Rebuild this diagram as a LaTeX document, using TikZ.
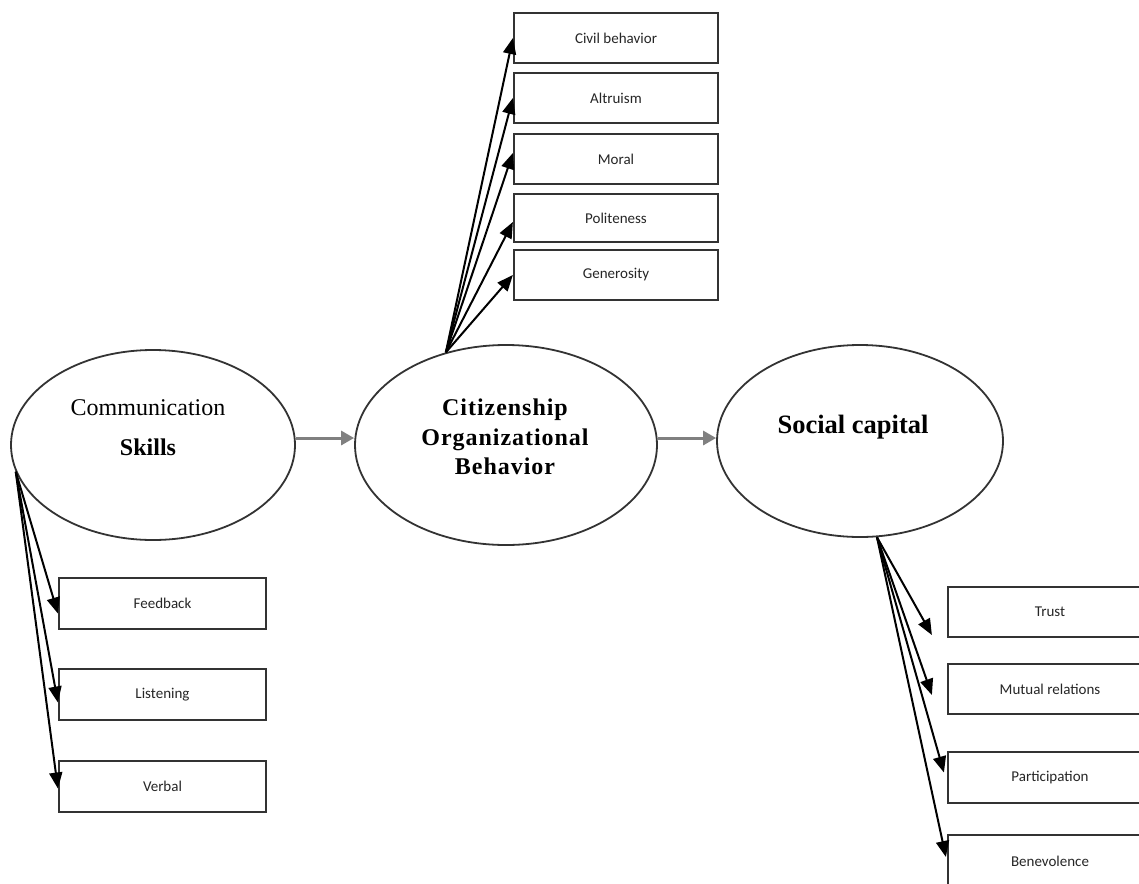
\documentclass[tikz,border=0pt]{standalone}
\usepackage{fontspec}
\usetikzlibrary{shapes.geometric,arrows.meta,calc}
\newfontfamily\ellfont{Liberation Serif}
\newfontfamily\cobfont[LetterSpace=4]{Liberation Serif}
\newfontfamily\boxfont{Carlito}
\begin{document}
\begin{tikzpicture}[x=1pt,y=-1pt,
  ell/.style={ellipse,draw=black!80,line width=1.8pt,inner sep=0pt},
  dimbox/.style={draw=black!80,line width=2.2pt,minimum width=204pt,minimum height=50pt,inner sep=0pt,
    font=\boxfont\fontsize{15}{18}\selectfont,text=black!85},
  blk/.style={-{Triangle[length=16pt,width=13pt]},line width=2pt,black},
  gry/.style={-{Triangle[length=13pt,width=14pt]},line width=3pt,black!50}]
\useasboundingbox (0,0) rectangle (1139,883);
\fill[white] (0,0) rectangle (1139,883);

% ellipses
\node[ell,minimum width=284pt,minimum height=190pt] (cs) at (153,445) {};
\node[ell,minimum width=302pt,minimum height=200pt] (cob) at (506,445) {};
\node[ell,minimum width=286pt,minimum height=192pt] (sc) at (860,441) {};

\node[align=center,font=\ellfont\fontsize{24}{40}\selectfont] (cstxt) at (148,428) {Communication\\\textbf{Skills}};
\node[align=center,font=\cobfont\bfseries\fontsize{24}{29.5}\selectfont] (cobtxt) at (505,437) {Citizenship\\Organizational\\Behavior};
\node[font=\ellfont\bfseries\fontsize{26.5}{30}\selectfont] (sctxt) at (853,427) {Social capital};

% main arrows
\draw[gry] ([yshift=7pt]cs.east) -- ([yshift=7pt]cob.west);
\draw[gry] ([yshift=7pt]cob.east) -- ([yshift=3pt]sc.west);

% top boxes
\node[dimbox] (civil) at (616,38) {Civil behavior};
\node[dimbox] (alt) at (616,98) {Altruism};
\node[dimbox] (moral) at (616,159) {Moral};
\node[dimbox,minimum height=48pt] (polite) at (616,218) {Politeness};
\node[dimbox] (gen) at (616,275) {Generosity};

\coordinate (cobtop) at (cob.123);
\draw[blk] (cobtop) -- (civil.west);
\draw[blk] (cobtop) -- (alt.west);
\draw[blk] (cobtop) -- ([yshift=6pt]moral.west);
\draw[blk] (cobtop) -- ([yshift=-4pt]polite.west);
\draw[blk] (cobtop) -- (gen.west);

% bottom-left boxes
\node[dimbox,minimum width=207pt,minimum height=51pt] (fb) at (162.5,603.5) {Feedback};
\node[dimbox,minimum width=207pt,minimum height=51pt] (lis) at (162.5,694.5) {Listening};
\node[dimbox,minimum width=207pt,minimum height=51pt] (verb) at (162.5,786.5) {Verbal};

\coordinate (csleft) at (cs.191);
\draw[blk] (csleft) -- ([yshift=-10pt]fb.west);
\draw[blk] (csleft) -- ([yshift=-8pt]lis.west);
\draw[blk] (csleft) -- ([yshift=-2pt]verb.west);

% right boxes
\node[dimbox] (trust) at (1050,612) {Trust};
\node[dimbox] (mutual) at (1050,689) {Mutual relations};
\node[dimbox,minimum height=51pt] (part) at (1050,777.5) {Participation};
\node[dimbox,minimum height=52pt] (bene) at (1050,861) {Benevolence};

\coordinate (scbot) at (sc.280);
\coordinate (trustin) at ($(trust.west)+(-15,23)$);
\coordinate (mutualin) at ($(mutual.west)+(-15,6)$);
\coordinate (partin) at ($(part.west)+(-3,-5)$);
\coordinate (benein) at ($(bene.west)+(-1,-4)$);
\draw[blk] (scbot) -- (trustin);
\draw[blk] (scbot) -- (mutualin);
\draw[blk] (scbot) -- (partin);
\draw[blk] (scbot) -- (benein);
\end{tikzpicture}
\end{document}
